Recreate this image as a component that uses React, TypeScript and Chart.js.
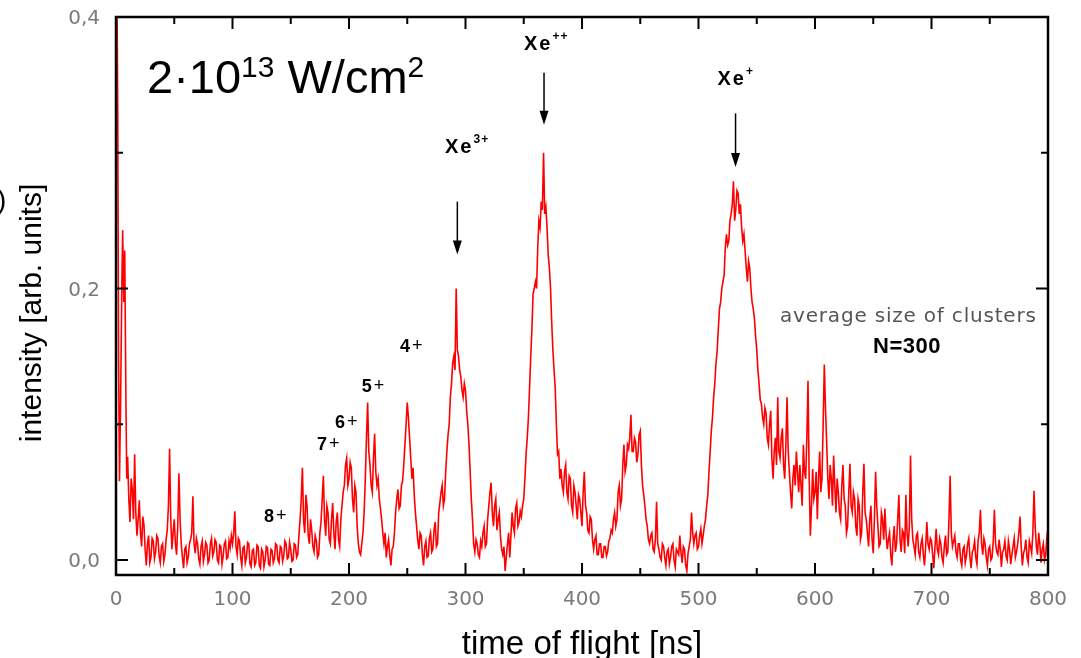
import React, { useEffect, useRef } from 'react';
import { Chart, registerables } from 'chart.js';

Chart.register(...registerables);

// ---------- data (time of flight in ns, intensity in arb. units) ----------
const headTimes = [0.8, 1.5, 2.2, 3, 4, 5, 5.7, 6.7, 7.5, 8.5, 9.2];
const headValues = [0.42, 0.33, 0.15, 0.058, 0.12, 0.2, 0.243, 0.19, 0.228, 0.12, 0.06];

const T_STEP = 1;
const seg010 = [0.076, 0.045, 0.028, 0.06, 0.052, 0.03, 0.078, 0.035, 0.018, 0.03, 0.044, 0.02, 0.01, 0.032, 0.026, 0.008, -0.004, 0.012, 0.018, -0.002, 0.002, 0.016, 0.014, 0.001, 0.006, 0.018, 0.016, 0.003, -0.002, 0.01, 0.012, -0.001, 0.004, 0.015, 0.022, 0.04, 0.082, 0.03, 0.008, 0.02];
const seg050 = [0.03, 0.012, 0.004, 0.025, 0.064, 0.03, 0.012, 0.002, -0.006, 0.008, 0.01, -0.002, 0.002, 0.012, 0.015, 0.02, 0.047, 0.012, 0.005, 0.016, 0.012, 0.001, -0.003, 0.01, 0.014, -0.001, 0.004, 0.013, 0.011, -0.002, 0.0, 0.012, 0.016, 0.003, 0.006, 0.015, 0.013, 0.0, -0.002, 0.011, 0.01, -0.003, 0.003, 0.012, 0.014, 0.001, 0.002, 0.014, 0.009, 0.018];
const seg100 = [0.012, 0.02, 0.036, 0.01, 0.004, 0.016, 0.014, 0.002, -0.004, 0.009, 0.01, -0.002, 0.002, 0.013, 0.012, -0.003, -0.005, 0.007, 0.008, -0.004, -0.002, 0.011, 0.01, -0.004, -0.006, 0.008, 0.006, -0.005, 0.0, 0.01, 0.009, -0.003, -0.004, 0.008, 0.007, -0.002, 0.001, 0.012, 0.011, 0.0, -0.002, 0.01, 0.009, -0.001, 0.003, 0.014, 0.012, 0.001, 0.002, 0.013];
const seg150 = [0.008, -0.001, 0.0, 0.012, 0.011, 0.002, 0.004, 0.018, 0.03, 0.045, 0.068, 0.03, 0.02, 0.048, 0.04, 0.018, 0.012, 0.03, 0.022, 0.01, 0.006, 0.018, 0.014, 0.002, 0.004, 0.02, 0.028, 0.045, 0.062, 0.03, 0.018, 0.04, 0.035, 0.015, 0.012, 0.03, 0.042, 0.02, 0.008, 0.028, 0.035, 0.015, 0.01, 0.03, 0.04, 0.05, 0.055, 0.07, 0.075, 0.055];
const seg200 = [0.06, 0.072, 0.068, 0.045, 0.035, 0.055, 0.05, 0.025, 0.012, 0.006, 0.004, 0.012, 0.02, 0.035, 0.06, 0.09, 0.116, 0.08, 0.07, 0.055, 0.05, 0.075, 0.093, 0.065, 0.055, 0.06, 0.045, 0.038, 0.03, 0.02, 0.012, 0.02, 0.002, 0.01, 0.015, 0.003, -0.004, 0.008, 0.01, 0.02, 0.035, 0.045, 0.052, 0.038, 0.04, 0.055, 0.058, 0.07, 0.085, 0.1];
const seg250 = [0.116, 0.105, 0.09, 0.075, 0.06, 0.068, 0.048, 0.035, 0.025, 0.015, 0.008, 0.02, 0.018, 0.004, -0.004, 0.01, 0.014, 0.002, 0.003, 0.016, 0.02, 0.006, 0.008, 0.022, 0.028, 0.01, 0.012, 0.035, 0.042, 0.05, 0.055, 0.04, 0.045, 0.065, 0.08, 0.092, 0.1, 0.12, 0.13, 0.145, 0.15, 0.14, 0.2, 0.155, 0.15, 0.14, 0.135, 0.125, 0.12, 0.13];
const seg300 = [0.125, 0.11, 0.1, 0.085, 0.065, 0.045, 0.03, 0.012, 0.006, 0.015, 0.012, 0.004, 0.002, 0.014, 0.01, 0.02, 0.025, 0.01, 0.012, 0.03, 0.04, 0.05, 0.057, 0.035, 0.025, 0.04, 0.045, 0.022, 0.03, 0.035, 0.018, 0.008, 0.004, 0.01, -0.008, 0.002, 0.012, 0.02, 0.002, 0.018, 0.035, 0.025, 0.02, 0.038, 0.042, 0.025, 0.028, 0.036, 0.032, 0.04];
const seg350 = [0.045, 0.06, 0.078, 0.09, 0.105, 0.127, 0.15, 0.17, 0.196, 0.2, 0.205, 0.2, 0.23, 0.25, 0.245, 0.264, 0.258, 0.3, 0.255, 0.26, 0.245, 0.225, 0.215, 0.2, 0.175, 0.155, 0.14, 0.127, 0.1, 0.078, 0.08, 0.06, 0.067, 0.055, 0.05, 0.065, 0.07, 0.05, 0.045, 0.062, 0.06, 0.04, 0.035, 0.055, 0.05, 0.04, 0.03, 0.048, 0.045, 0.035];
const seg400 = [0.025, 0.05, 0.065, 0.04, 0.035, 0.022, 0.02, 0.032, 0.03, 0.015, 0.008, 0.015, 0.018, 0.004, 0.004, 0.012, 0.012, 0.002, 0.002, 0.01, 0.01, 0.003, 0.006, 0.014, 0.016, 0.022, 0.02, 0.03, 0.035, 0.025, 0.03, 0.05, 0.055, 0.04, 0.045, 0.07, 0.085, 0.065, 0.07, 0.085, 0.082, 0.09, 0.107, 0.08, 0.08, 0.09, 0.087, 0.072, 0.078, 0.092];
const seg450 = [0.095, 0.07, 0.055, 0.048, 0.04, 0.03, 0.025, 0.015, 0.012, 0.018, 0.02, 0.008, 0.006, 0.015, 0.043, 0.012, 0.008, 0.002, 0.0, 0.012, 0.01, 0.002, -0.004, 0.006, 0.008, -0.003, 0.002, 0.01, 0.012, 0.0, -0.005, 0.008, 0.006, 0.004, 0.018, 0.005, -0.002, 0.01, 0.008, -0.004, -0.008, 0.005, 0.01, 0.015, 0.035, 0.02, 0.012, 0.018, 0.02, 0.008];
const seg500 = [0.01, 0.018, 0.023, 0.012, 0.018, 0.025, 0.03, 0.04, 0.048, 0.065, 0.08, 0.095, 0.105, 0.12, 0.13, 0.145, 0.154, 0.17, 0.185, 0.19, 0.2, 0.205, 0.21, 0.23, 0.24, 0.232, 0.235, 0.25, 0.255, 0.262, 0.279, 0.25, 0.258, 0.272, 0.27, 0.255, 0.262, 0.245, 0.235, 0.24, 0.228, 0.215, 0.205, 0.22, 0.215, 0.2, 0.19, 0.185, 0.178, 0.165];
const seg550 = [0.155, 0.14, 0.13, 0.118, 0.115, 0.105, 0.1, 0.112, 0.108, 0.09, 0.085, 0.1, 0.11, 0.075, 0.06, 0.08, 0.09, 0.07, 0.12, 0.08, 0.075, 0.09, 0.097, 0.07, 0.06, 0.085, 0.12, 0.08, 0.065, 0.05, 0.038, 0.06, 0.07, 0.055, 0.08, 0.065, 0.05, 0.07, 0.055, 0.04, 0.085, 0.065, 0.06, 0.09, 0.132, 0.06, 0.018, 0.04, 0.067, 0.045];
const seg600 = [0.05, 0.065, 0.03, 0.06, 0.08, 0.05, 0.06, 0.1, 0.144, 0.112, 0.087, 0.06, 0.045, 0.07, 0.06, 0.04, 0.077, 0.055, 0.035, 0.06, 0.05, 0.035, 0.03, 0.055, 0.07, 0.045, 0.04, 0.02, 0.025, 0.05, 0.071, 0.04, 0.035, 0.05, 0.045, 0.025, 0.018, 0.045, 0.04, 0.015, 0.02, 0.05, 0.071, 0.035, 0.03, 0.02, 0.01, 0.03, 0.04, 0.015];
const seg650 = [0.005, 0.03, 0.065, 0.04, 0.025, 0.01, 0.012, 0.035, 0.03, 0.015, 0.038, 0.02, 0.008, 0.015, 0.02, 0.004, -0.004, 0.015, 0.025, 0.006, 0.012, 0.03, 0.048, 0.015, 0.006, 0.022, 0.02, 0.005, 0.048, 0.02, 0.01, 0.025, 0.077, 0.03, 0.015, 0.01, 0.004, 0.018, 0.02, 0.006, 0.002, 0.012, 0.016, 0.004, -0.004, 0.01, 0.028, 0.012, 0.008, 0.016];
const seg700 = [0.014, 0.004, -0.006, 0.01, 0.023, 0.008, 0.004, 0.016, 0.012, 0.002, -0.002, 0.01, 0.018, 0.004, 0.006, 0.03, 0.062, 0.02, 0.01, 0.014, 0.018, 0.006, 0.002, 0.012, 0.012, 0.0, -0.004, 0.008, 0.01, -0.002, 0.003, 0.012, 0.016, 0.002, -0.006, 0.006, 0.008, 0.014, 0.002, -0.003, 0.014, 0.02, 0.037, 0.012, 0.004, 0.016, 0.012, 0.002, -0.004, 0.008];
const seg750 = [0.01, 0.0, 0.002, 0.014, 0.037, 0.012, 0.006, 0.004, 0.015, 0.008, -0.005, 0.006, 0.008, 0.014, 0.003, 0.0, 0.014, 0.008, -0.003, 0.004, 0.01, 0.016, 0.002, 0.006, 0.012, 0.02, 0.032, 0.01, -0.004, 0.005, 0.008, 0.015, 0.002, -0.002, 0.014, 0.01, 0.005, 0.02, 0.051, 0.025, 0.01, 0.004, 0.02, 0.012, -0.002, 0.008, 0.012, 0.0, 0.004, 0.016];
const seg800 = [0.01];

const segmentStarts = [10, 50, 100, 150, 200, 250, 300, 350, 400, 450, 500, 550, 600, 650, 700, 750, 800];
const segments = [seg010, seg050, seg100, seg150, seg200, seg250, seg300, seg350, seg400, seg450, seg500, seg550, seg600, seg650, seg700, seg750, seg800];

// ---------- axes ----------
const X_MIN = 0;
const X_MAX = 800;
const Y_MIN = -0.011;
const Y_MAX = 0.4;
const xMajorTicks = [0, 100, 200, 300, 400, 500, 600, 700, 800];
const xMinorTicks = [50, 150, 250, 350, 450, 550, 650, 750];
const xTickLabels = ['0', '100', '200', '300', '400', '500', '600', '700', '800'];
const yMajorTicks = [0, 0.2, 0.4];
const yMinorTicks = [0.1, 0.3];
const yTickLabels = ['0,0', '0,2', '0,4'];
const xTitle = 'time of flight [ns]';
const yTitle = 'intensity [arb. units]';
const edgeGlyph = ')';

// ---------- annotations ----------
const ionNames = ['Xe', 'Xe', 'Xe'];
const ionCharges = ['3+', '++', '+'];
const ionLabelT = [282.4, 350.2, 516.3];
const ionLabelV = [0.3, 0.3758, 0.35];
const arrowT = [293, 367.4, 531.8];
const arrowFromV = [0.264, 0.359, 0.329];
const arrowToV = [0.225, 0.3206, 0.2896];

const chargeDigits = ['8', '7', '6', '5', '4'];
const chargeT = [127, 172.5, 188, 211, 243.8];
const chargeV = [0.028, 0.081, 0.0973, 0.1238, 0.1533];

const intensityParts = ['2·10', '13', ' W/cm', '2'];
const intensityT = 26.6;
const intensityV = 0.344;
const clusterNote = 'average size of clusters';
const clusterNoteT = 570;
const clusterNoteV = 0.1754;
const clusterSize = 'N=300';
const clusterSizeT = 649.8;
const clusterSizeV = 0.1525;

function buildPoints() {
  const pts: { x: number; y: number }[] = [];
  headTimes.forEach((t, i) => pts.push({ x: t, y: headValues[i] }));
  segments.forEach((seg, s) => {
    seg.forEach((v, i) => pts.push({ x: segmentStarts[s] + i * T_STEP, y: v }));
  });
  return pts;
}

const SANS = '"Liberation Sans", Arial, sans-serif';
const DEJAVU = '"DejaVu Sans", sans-serif';

const decorPlugin = {
  id: 'decor',
  afterDatasetsDraw(chart: any) {
    const { ctx, chartArea: a } = chart;
    const xs = chart.scales.x;
    const ys = chart.scales.y;
    ctx.save();

    // frame
    ctx.strokeStyle = '#000';
    ctx.lineWidth = 2.5;
    ctx.strokeRect(a.left, a.top, a.right - a.left, a.bottom - a.top);

    // inward ticks on all four sides
    ctx.lineWidth = 2;
    ctx.beginPath();
    const xt = (vals: number[], len: number) => {
      vals.forEach((v) => {
        const px = xs.getPixelForValue(v);
        ctx.moveTo(px, a.bottom);
        ctx.lineTo(px, a.bottom - len);
        ctx.moveTo(px, a.top);
        ctx.lineTo(px, a.top + len);
      });
    };
    const yt = (vals: number[], len: number) => {
      vals.forEach((v) => {
        const py = ys.getPixelForValue(v);
        ctx.moveTo(a.left, py);
        ctx.lineTo(a.left + len, py);
        ctx.moveTo(a.right, py);
        ctx.lineTo(a.right - len, py);
      });
    };
    xt(xMajorTicks, 12);
    xt(xMinorTicks, 7);
    yt(yMajorTicks, 12);
    yt(yMinorTicks, 7);
    ctx.stroke();

    // tick labels
    ctx.fillStyle = '#7a7a7a';
    ctx.font = `20px ${DEJAVU}`;
    ctx.textBaseline = 'alphabetic';
    ctx.textAlign = 'center';
    xMajorTicks.forEach((v, i) => {
      ctx.fillText(xTickLabels[i], xs.getPixelForValue(v), a.bottom + 30);
    });
    ctx.textAlign = 'right';
    yMajorTicks.forEach((v, i) => {
      ctx.fillText(yTickLabels[i], a.left - 16, ys.getPixelForValue(v) + 7);
    });

    // axis titles
    ctx.fillStyle = '#000';
    ctx.font = `33px ${SANS}`;
    ctx.textAlign = 'center';
    ctx.fillText(xTitle, (a.left + a.right) / 2, 654);
    ctx.save();
    ctx.translate(41, 313);
    ctx.rotate(-Math.PI / 2);
    ctx.font = `30px ${SANS}`;
    ctx.fillText(yTitle, 0, 0);
    ctx.restore();
    ctx.textAlign = 'left';
    ctx.font = `28px ${SANS}`;
    ctx.fillText(edgeGlyph, -3, 209);

    // arrows
    ctx.strokeStyle = '#000';
    ctx.fillStyle = '#000';
    ctx.lineWidth = 1.5;
    arrowT.forEach((t, i) => {
      const px = xs.getPixelForValue(t);
      const y1 = ys.getPixelForValue(arrowFromV[i]);
      const y2 = ys.getPixelForValue(arrowToV[i]);
      ctx.beginPath();
      ctx.moveTo(px, y1);
      ctx.lineTo(px, y2 - 10);
      ctx.stroke();
      ctx.beginPath();
      ctx.moveTo(px - 4.5, y2 - 14);
      ctx.lineTo(px + 4.5, y2 - 14);
      ctx.lineTo(px, y2);
      ctx.closePath();
      ctx.fill();
    });

    // ion labels
    ctx.textAlign = 'left';
    ionNames.forEach((name, i) => {
      const px = xs.getPixelForValue(ionLabelT[i]);
      const py = ys.getPixelForValue(ionLabelV[i]);
      ctx.font = `bold 20px ${SANS}`;
      (ctx as any).letterSpacing = '2px';
      ctx.fillText(name, px, py);
      const w = ctx.measureText(name).width;
      ctx.font = `bold 12px ${SANS}`;
      (ctx as any).letterSpacing = '1px';
      ctx.fillText(ionCharges[i], px + w, py - 10);
      (ctx as any).letterSpacing = '0px';
    });

    // charge state labels
    chargeDigits.forEach((d, i) => {
      const px = xs.getPixelForValue(chargeT[i]);
      const py = ys.getPixelForValue(chargeV[i]);
      ctx.font = `bold 18px ${SANS}`;
      ctx.fillText(d, px, py);
      const w = ctx.measureText(d).width;
      ctx.font = `18px ${SANS}`;
      ctx.fillText('+', px + w + 2, py - 1);
    });

    // laser intensity
    {
      let px = xs.getPixelForValue(intensityT);
      const py = ys.getPixelForValue(intensityV);
      const fonts = [`47px ${SANS}`, `30px ${SANS}`, `47px ${SANS}`, `30px ${SANS}`];
      const raise = [0, 16, 0, 16];
      intensityParts.forEach((part, i) => {
        ctx.font = fonts[i];
        ctx.fillText(part, px, py - raise[i]);
        px += ctx.measureText(part).width;
      });
    }

    // cluster note
    ctx.fillStyle = '#555';
    ctx.font = `20px ${DEJAVU}`;
    (ctx as any).letterSpacing = '0.8px';
    ctx.fillText(clusterNote, xs.getPixelForValue(clusterNoteT), ys.getPixelForValue(clusterNoteV));
    (ctx as any).letterSpacing = '0.5px';
    ctx.fillStyle = '#000';
    ctx.font = `bold 22px ${SANS}`;
    ctx.fillText(clusterSize, xs.getPixelForValue(clusterSizeT), ys.getPixelForValue(clusterSizeV));
    (ctx as any).letterSpacing = '0px';

    ctx.restore();
  },
};

export default function App() {
  const ref = useRef<HTMLCanvasElement>(null);
  useEffect(() => {
    document.body.style.margin = '0';
    const canvas = ref.current;
    if (!canvas) return;
    const chart = new Chart(canvas, {
      type: 'line',
      data: {
        datasets: [
          {
            data: buildPoints(),
            borderColor: '#ff0000',
            borderWidth: 1.6,
            pointRadius: 0,
            tension: 0,
            fill: false,
          },
        ],
      },
      options: {
        animation: false,
        responsive: false,
        devicePixelRatio: 1,
        events: [],
        layout: { padding: { left: 116, right: 33, top: 17, bottom: 83 } },
        scales: {
          x: { type: 'linear', min: X_MIN, max: X_MAX, display: false },
          y: { type: 'linear', min: Y_MIN, max: Y_MAX, display: false },
        },
        plugins: { legend: { display: false }, tooltip: { enabled: false } },
      },
      plugins: [decorPlugin],
    } as any);
    return () => chart.destroy();
  }, []);
  return (
    <div style={{ position: 'absolute', left: 0, top: 0, width: 1081, height: 658, background: '#fff' }}>
      <canvas ref={ref} width={1081} height={658} style={{ display: 'block', width: 1081, height: 658 }} />
    </div>
  );
}
